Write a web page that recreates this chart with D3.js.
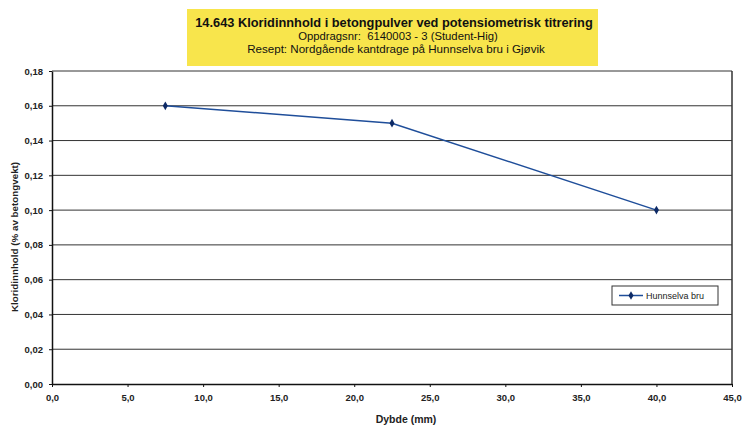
<!DOCTYPE html>
<html><head><meta charset="utf-8">
<script src="https://cdn.jsdelivr.net/npm/d3@7"></script>
<style>body{margin:0;background:#fff;}svg{display:block;font-family:"Liberation Sans",Arial,sans-serif;}text{white-space:pre;}</style>
</head><body>
<svg id="c" width="743" height="426"></svg>
<script>
const titleLines = ["14.643 Kloridinnhold i betongpulver ved potensiometrisk titrering","Oppdragsnr:  6140003 - 3 (Student-Hig)","Resept: Nordgående kantdrage på Hunnselva bru i Gjøvik"];
const depths = [7.5, 22.5, 40.0];
const chloride = [0.16, 0.15, 0.10];
const seriesName = "Hunnselva bru";
const xTicks = [0,5,10,15,20,25,30,35,40,45];
const yTicks = [0,0.02,0.04,0.06,0.08,0.10,0.12,0.14,0.16,0.18];
const xLabel = "Dybde (mm)";
const yLabel = "Kloridinnhold (% av betongvekt)";

const svg = d3.select("#c");
const m = {l:52, r:732, t:71, b:384};
const x = d3.scaleLinear().domain([0,45]).range([m.l,m.r]);
const y = d3.scaleLinear().domain([0,0.18]).range([m.b,m.t]);
const fmtX = d => d.toFixed(1).replace(".", ",");
const fmtY = d => d.toFixed(2).replace(".", ",");

// title box
svg.append("rect").attr("x",187).attr("y",9).attr("width",411).attr("height",57).attr("fill","#f8e54c");
svg.append("text").attr("x",394).attr("y",26.5).attr("text-anchor","middle").attr("font-size",12.8).attr("font-weight","bold").attr("fill","#111").text(titleLines[0]);
svg.append("text").attr("x",398).attr("y",39.5).attr("text-anchor","middle").attr("font-size",11.3).attr("fill","#111").text(titleLines[1]);
svg.append("text").attr("x",396).attr("y",52.5).attr("text-anchor","middle").attr("font-size",11.6).attr("fill","#111").text(titleLines[2]);

// gridlines
svg.append("g").selectAll("line").data(yTicks.filter(d=>d>0)).join("line")
  .attr("x1",m.l).attr("x2",m.r).attr("y1",d=>y(d)).attr("y2",d=>y(d))
  .attr("stroke","#333").attr("stroke-width",1);

// axes
const xa = svg.append("g").attr("transform",`translate(0,${m.b})`)
  .call(d3.axisBottom(x).tickValues(xTicks).tickFormat(fmtX).tickSize(3).tickSizeOuter(0));
const ya = svg.append("g").attr("transform",`translate(${m.l},0)`)
  .call(d3.axisLeft(y).tickValues(yTicks).tickFormat(fmtY).tickSize(3).tickSizeOuter(0));
[xa,ya].forEach(a=>{a.selectAll("path").attr("stroke","#111").attr("stroke-width",1.5);
  a.selectAll("line").attr("stroke","#111");
  a.selectAll("text").attr("font-size",9.5).attr("font-weight","bold").attr("fill","#222").attr("font-family","Liberation Sans, Arial, sans-serif");});
xa.selectAll("text").attr("dy","1.15em");
ya.selectAll("text").attr("x",-9);
// right border
svg.append("line").attr("x1",m.r).attr("x2",m.r).attr("y1",m.t).attr("y2",m.b).attr("stroke","#333").attr("stroke-width",1.5);

// axis labels
svg.append("text").attr("x",406).attr("y",423).attr("text-anchor","middle").attr("font-size",10.5).attr("font-weight","bold").attr("fill","#222").text(xLabel);
svg.append("text").attr("transform",`translate(18,237) rotate(-90)`).attr("text-anchor","middle").attr("font-size",9.8).attr("font-weight","bold").attr("fill","#222").text(yLabel);

// series
const pts = depths.map((d,i)=>[d,chloride[i]]);
svg.append("path").datum(pts).attr("fill","none").attr("stroke","#1f4e9a").attr("stroke-width",1.5)
  .attr("d", d3.line().x(d=>x(d[0])).y(d=>y(d[1])));
const sym = d3.symbol().type(d3.symbolDiamond).size(22);
svg.append("g").selectAll("path").data(pts).join("path")
  .attr("transform",d=>`translate(${x(d[0])},${y(d[1])})`).attr("d",sym).attr("fill","#0d2a66");

// legend
const lg = svg.append("g").attr("transform","translate(612,286)");
lg.append("rect").attr("width",106).attr("height",19).attr("fill","#fff").attr("stroke","#333").attr("stroke-width",1);
lg.append("line").attr("x1",7).attr("x2",31).attr("y1",9.5).attr("y2",9.5).attr("stroke","#1f4e9a").attr("stroke-width",1.5);
lg.append("path").attr("transform","translate(19,9.5)").attr("d",sym).attr("fill","#0d2a66");
lg.append("text").attr("x",34).attr("y",13).attr("font-size",9).attr("fill","#222").text(seriesName);
</script>
</body></html>
